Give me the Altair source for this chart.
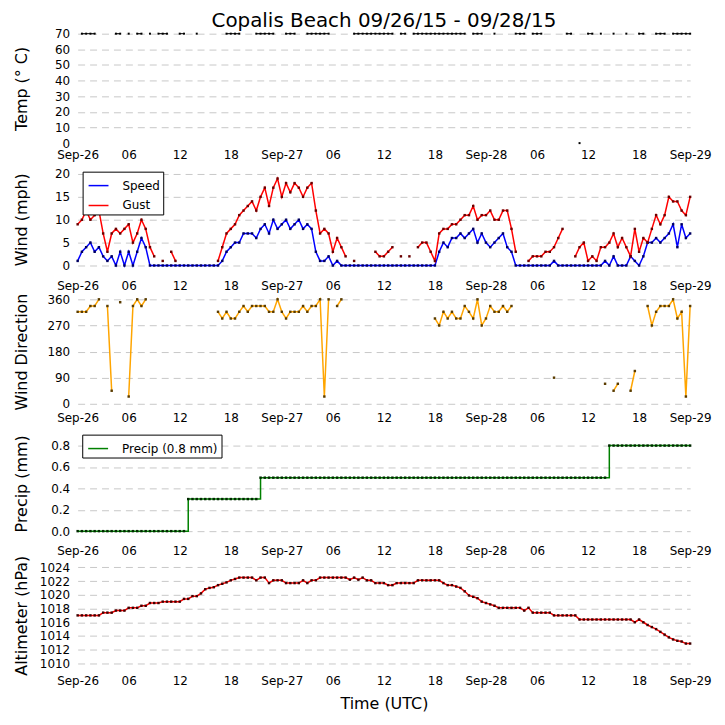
import json
import altair as alt
import pandas as pd

N = None
FONT = "DejaVu Sans"

# observation times: hours after 2015-09-26 00:00 UTC, every 30 minutes
HOURS = [i * 0.5 for i in range(145)]

TICK_HOURS = [0, 6, 12, 18, 24, 30, 36, 42, 48, 54, 60, 66, 72]
TICK_LABELS = ["Sep-26", "06", "12", "18", "Sep-27", "06", "12", "18",
               "Sep-28", "06", "12", "18", "Sep-29"]

TEMP = [N, 70, 70, 70, 70, N, N, N, N, 70, 70, N, 70, N, 70, 70, N, 70, N, 70,
        70, 70, N, N, 70, 70, N, N, 70, N, N, N, N, N, N, 70, 70, 70, 70, N,
        N, N, 70, 70, 70, 70, 70, N, N, 70, 70, 70, N, N, 70, 70, 70, 70, 70, 70,
        N, N, N, N, N, 70, 70, 70, 70, 70, 70, 70, 70, 70, 70, N, 70, 70, N, 70,
        70, 70, 70, 70, 70, 70, 70, 70, 70, 70, 70, 70, N, 70, 70, 70, N, N, 70, N,
        N, N, N, 70, 70, 70, N, 70, 70, 70, N, N, N, N, N, 70, 70, N, 0, N,
        70, 70, N, 70, N, N, 70, N, N, 70, N, N, 70, 70, N, N, 70, 70, 70, N,
        70, 70, 70, 70, 70]

SPEED = [1, 3, 4, 5, 3, 4, 2, 1, 2, 0, 3, 0, 3, 0, 3, 6, 4, 0, 0, 0,
         0, 0, 0, 0, 0, 0, 0, 0, 0, 0, 0, 0, 0, 0, 1, 3, 4, 5, 5, 7,
         7, 7, 6, 8, 9, 7, 10, 8, 9, 10, 8, 9, 10, 8, 9, 8, 3, 1, 1, 2,
         0, 1, 0, 0, 0, 0, 0, 0, 0, 0, 0, 0, 0, 0, 0, 0, 0, 0, 0, 0,
         0, 0, 0, 0, 0, 3, 5, 4, 6, 6, 7, 6, 7, 8, 5, 7, 5, 4, 5, 6,
         7, 4, 3, 0, 0, 0, 0, 0, 0, 0, 0, 0, 1, 0, 0, 0, 0, 0, 0, 0,
         0, 0, 0, 0, 1, 0, 2, 0, 0, 0, 2, 1, 0, 2, 5, 5, 6, 5, 6, 7,
         9, 4, 9, 6, 7]

GUST = [9, 10, 12, 10, 11, 12, 7, 3, 7, 8, 7, 8, 9, 5, 7, 10, 8, 4, 2, N,
        1, N, 3, 1, N, N, N, N, N, N, N, N, N, 1, 4, 7, 8, 9, 11, 12,
        13, 14, 12, 15, 17, 13, 17, 19, 15, 18, 16, 18, 17, 15, 17, 18, 12, 7, 8, 7,
        3, 6, 4, 2, N, 1, N, N, N, N, 3, 2, 2, 3, 4, N, 2, N, 2, N,
        4, 5, 5, 3, 1, 7, 8, 8, 9, 9, 10, 11, 11, 13, 10, 11, 11, 12, 10, 10,
        12, 12, 8, 3, N, N, 1, 2, 2, 2, 3, 3, 4, 6, 8, N, N, 2, 4, 5,
        1, 2, 1, 4, 4, 5, 7, 4, 6, 4, 2, 8, 3, 6, 5, 8, 11, 9, 11, 15,
        14, 14, 12, 11, 15]

DIRECTION = [317, 317, 317, 337, 337, 360, N, 337, 45, N, 350, N, 25, 337, 360, 337, 360, N, N, N,
             N, N, N, N, N, N, N, N, N, N, N, N, N, 317, 294, 317, 294, 294, 317, 337,
             317, 337, 337, 337, 337, 317, 317, 360, 317, 294, 317, 317, 317, 337, 317, 337, 337, 360, 25, 360,
             N, 337, 360, N, N, N, N, N, N, N, N, N, N, N, N, N, N, N, N, N,
             N, N, N, N, 294, 270, 317, 294, 317, 294, 294, 337, 317, 294, 360, 270, 294, 337, 317, 317,
             337, 317, 337, N, N, N, N, N, N, N, N, N, 90, N, N, N, N, N, N, N,
             N, N, N, N, 69, N, 45, 69, N, N, 45, 113, N, N, 337, 270, 317, 337, 337, 337,
             360, 294, 317, 25, 337]

PRECIP = [0.0, 0.0, 0.0, 0.0, 0.0, 0.0, 0.0, 0.0, 0.0, 0.0, 0.0, 0.0, 0.0, 0.0, 0.0, 0.0, 0.0, 0.0, 0.0, 0.0,
          0.0, 0.0, 0.0, 0.0, 0.0, 0.0, 0.3, 0.3, 0.3, 0.3, 0.3, 0.3, 0.3, 0.3, 0.3, 0.3, 0.3, 0.3, 0.3, 0.3,
          0.3, 0.3, 0.3, 0.5, 0.5, 0.5, 0.5, 0.5, 0.5, 0.5, 0.5, 0.5, 0.5, 0.5, 0.5, 0.5, 0.5, 0.5, 0.5, 0.5,
          0.5, 0.5, 0.5, 0.5, 0.5, 0.5, 0.5, 0.5, 0.5, 0.5, 0.5, 0.5, 0.5, 0.5, 0.5, 0.5, 0.5, 0.5, 0.5, 0.5,
          0.5, 0.5, 0.5, 0.5, 0.5, 0.5, 0.5, 0.5, 0.5, 0.5, 0.5, 0.5, 0.5, 0.5, 0.5, 0.5, 0.5, 0.5, 0.5, 0.5,
          0.5, 0.5, 0.5, 0.5, 0.5, 0.5, 0.5, 0.5, 0.5, 0.5, 0.5, 0.5, 0.5, 0.5, 0.5, 0.5, 0.5, 0.5, 0.5, 0.5,
          0.5, 0.5, 0.5, 0.5, 0.5, 0.8, 0.8, 0.8, 0.8, 0.8, 0.8, 0.8, 0.8, 0.8, 0.8, 0.8, 0.8, 0.8, 0.8, 0.8,
          0.8, 0.8, 0.8, 0.8, 0.8]
PRECIP_LABEL = "Precip (0.8 mm)"

ALTIMETER = [1017.0, 1017.0, 1017.0, 1017.0, 1017.0, 1017.0, 1017.4, 1017.4, 1017.4, 1017.7,
             1017.7, 1017.7, 1018.1, 1018.1, 1018.1, 1018.4, 1018.4, 1018.8, 1018.8, 1018.8,
             1019.0, 1019.0, 1019.0, 1019.0, 1019.0, 1019.4, 1019.4, 1019.8, 1019.8, 1020.2,
             1020.8, 1021.0, 1021.1, 1021.4, 1021.6, 1021.8, 1022.1, 1022.3, 1022.5, 1022.5,
             1022.5, 1022.5, 1022.1, 1022.5, 1022.5, 1021.7, 1022.1, 1022.1, 1022.1, 1021.7,
             1021.7, 1021.7, 1021.7, 1022.1, 1021.7, 1022.1, 1022.1, 1022.5, 1022.5, 1022.5,
             1022.5, 1022.5, 1022.5, 1022.5, 1022.2, 1022.5, 1022.2, 1022.5, 1022.1, 1022.1,
             1021.7, 1021.7, 1021.7, 1021.4, 1021.4, 1021.7, 1021.7, 1021.7, 1021.7, 1021.7,
             1022.1, 1022.1, 1022.1, 1022.1, 1022.1, 1022.1, 1021.7, 1021.4, 1021.4, 1021.2,
             1021.0, 1020.5, 1019.9, 1019.7, 1019.5, 1019.0, 1018.8, 1018.6, 1018.4, 1018.1,
             1018.1, 1018.1, 1018.1, 1018.1, 1018.1, 1017.7, 1018.1, 1017.4, 1017.4, 1017.4,
             1017.4, 1017.4, 1017.0, 1017.0, 1017.0, 1017.0, 1017.0, 1017.0, 1016.4, 1016.4,
             1016.4, 1016.4, 1016.4, 1016.4, 1016.4, 1016.4, 1016.4, 1016.4, 1016.4, 1016.4,
             1016.4, 1016.0, 1016.4, 1016.0, 1015.6, 1015.3, 1015.0, 1014.6, 1014.2, 1013.8,
             1013.5, 1013.3, 1013.2, 1012.9, 1012.9]

TITLE = "Copalis Beach 09/26/15 - 09/28/15"

# ---------------------------------------------------------------- styling
W = 615.6
GRID = "#c8c8c8"
LABEL_EXPR = json.dumps(TICK_LABELS) + "[round(datum.value / 6)]"

obs = pd.DataFrame({"h": HOURS, "temp": TEMP, "dir": DIRECTION,
                    "precip": PRECIP, "alt": ALTIMETER})
obs["name"] = PRECIP_LABEL
wind = pd.DataFrame({"h": HOURS + HOURS, "mph": SPEED + GUST,
                     "series": ["Speed"] * len(SPEED) + ["Gust"] * len(GUST)})


def x_enc(pad, title=None):
    kw = dict(values=TICK_HOURS, labelExpr=LABEL_EXPR, grid=False, domain=False,
              ticks=False, labelPadding=pad, labelFlush=False, labelOverlap=False,
              labelFont=FONT, labelFontSize=12, labelColor="black", title=title)
    if title:
        kw.update(titleFont=FONT, titleFontSize=16, titleFontWeight="normal",
                  titleColor="black", titleBaseline="alphabetic", titleY=44.8)
    return alt.X("h:Q", scale=alt.Scale(domain=[0, 72], nice=False, zero=False),
                 axis=alt.Axis(**kw))


def y_enc(field, domain, values, fmt, title, title_y, grid_color=GRID):
    ax = alt.Axis(values=values, format=fmt, title=title, titleX=-51.2, titleY=title_y,
                  titleAngle=270, titleAlign="center", titleBaseline="alphabetic",
                  titleFont=FONT, titleFontSize=16, titleFontWeight="normal",
                  titleColor="black", labelFont=FONT, labelFontSize=12,
                  labelColor="black", labelPadding=8, labelFlush=False,
                  labelOverlap=False, domain=False, ticks=False, grid=True,
                  gridColor=grid_color, gridDash=[7, 5], gridWidth=1)
    return alt.Y(field, scale=alt.Scale(domain=domain, nice=False, zero=False), axis=ax)


def legend(lx, ly):
    return alt.Legend(orient="none", legendX=lx, legendY=ly, title=None,
                      strokeColor="black", fillColor="white", padding=3,
                      symbolOffset=2,
                      symbolType="stroke", symbolSize=400, symbolStrokeWidth=1.5,
                      labelFont=FONT, labelFontSize=12, labelColor="black",
                      labelOffset=13, rowPadding=3)


# ---------------------------------------------------------------- temperature
yt = y_enc("temp:Q", [0, 70], [0, 10, 20, 30, 40, 50, 60, 70], "d", "Temp (\u00b0 C)", 55,
           grid_color=alt.condition("datum.value == 0", alt.value("transparent"), alt.value(GRID)))
xt = x_enc(6.9)
temp_base = alt.Chart(obs)
temp = alt.layer(
    temp_base.mark_line(color="black", strokeWidth=1).encode(x=xt, y=yt),
    temp_base.mark_square(color="black", size=4, opacity=1).encode(x=xt, y=yt),
).properties(width=W, height=110,
             title=alt.TitleParams(TITLE, font=FONT, fontSize=20, fontWeight="normal",
                                   color="black", anchor="middle", frame="group",
                                   baseline="alphabetic", offset=-19))

# ---------------------------------------------------------------- wind
yw = y_enc("mph:Q", [0, 26.74], [0, 5, 10, 15, 20], "d", "Wind (mph)", 76.5)
xw = x_enc(14.9)
wbase = alt.Chart(wind)
wind_chart = alt.layer(
    wbase.mark_line(strokeWidth=1.5).encode(
        x=xw, y=yw,
        color=alt.Color("series:N", scale=alt.Scale(domain=["Speed", "Gust"],
                                                    range=["#0000ff", "#ff0000"]),
                        legend=legend(5, 28.7))),
    wbase.transform_filter(alt.datum.series == "Speed").mark_square(
        color="#000060", size=6, opacity=1).encode(x=xw, y=yw),
    wbase.transform_filter(alt.datum.series == "Gust").mark_square(
        color="#6a0000", size=6, opacity=1).encode(x=xw, y=yw),
).properties(width=W, height=123)

# ---------------------------------------------------------------- direction
yd = y_enc("dir:Q", [0, 476.6], [0, 90, 180, 270, 360], "d", "Wind Direction", 86.5)
xd = x_enc(8.9)
dbase = alt.Chart(obs)
dir_chart = alt.layer(
    dbase.mark_line(color="#ffa500", strokeWidth=1.5).encode(x=xd, y=yd),
    dbase.mark_square(color="#5a3c00", size=6, opacity=1).encode(x=xd, y=yd),
).properties(width=W, height=139)

# ---------------------------------------------------------------- precip
yp = y_enc("precip:Q", [0, 1.1907], [0, 0.2, 0.4, 0.6, 0.8], ".1f", "Precip (mm)", 80)
xp = x_enc(14.4)
pbase = alt.Chart(obs)
precip_chart = alt.layer(
    pbase.mark_line(strokeWidth=1.5, interpolate="step-after").encode(
        x=xp, y=yp,
        color=alt.Color("name:N", scale=alt.Scale(domain=[PRECIP_LABEL], range=["#008000"]),
                        legend=legend(4.6, 31))),
    pbase.mark_square(color="#002800", size=6, opacity=1).encode(x=xp, y=yp),
).properties(width=W, height=128)

# ---------------------------------------------------------------- altimeter
ya = y_enc("alt:Q", [1010, 1029.26], [1010, 1012, 1014, 1016, 1018, 1020, 1022, 1024],
           "d", "Altimeter (hPa)", 84.5)
xa = x_enc(12.2, "Time (UTC)")
abase = alt.Chart(obs)
alt_chart = alt.layer(
    abase.mark_line(color="#ff0000", strokeWidth=1.5).encode(x=xa, y=ya),
    abase.mark_square(color="#400000", size=6, opacity=1).encode(x=xa, y=ya),
).properties(width=W, height=133)

chart = alt.vconcat(
    temp, wind_chart, dir_chart, precip_chart, alt_chart, spacing=0, bounds="flush"
).resolve_scale(y="independent", color="independent").resolve_legend(
    color="independent"
).configure_view(stroke=None).properties(
    padding={"left": 5, "top": 1, "right": 5, "bottom": 5}, background="white"
)

chart.save("out.html", embed_options={"renderer": "svg", "actions": False})
